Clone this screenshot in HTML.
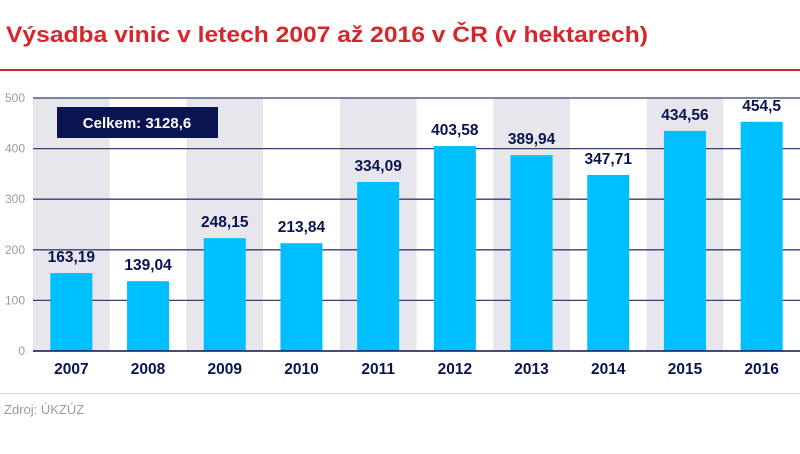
<!DOCTYPE html>
<html><head><meta charset="utf-8"><style>
body{margin:0;width:800px;height:449px;background:#fff;overflow:hidden;font-family:"Liberation Sans",sans-serif}
</style></head><body>
<svg width="800" height="449" xmlns="http://www.w3.org/2000/svg">
<text x="6" y="42" font-size="22" font-weight="bold" fill="#d7262b" textLength="642" lengthAdjust="spacingAndGlyphs">Výsadba vinic v letech 2007 až 2016 v ČR (v hektarech)</text>
<rect x="0" y="69" width="800" height="2" fill="#d7262b"/>
<g id="plot"></g>
<rect x="0" y="393" width="800" height="1" fill="#cfd0dc"/>
<text x="4" y="414" font-size="13" fill="#9a9aaa">Zdroj: ÚKZÚZ</text>
</svg>
<script>
const categories=["2007","2008","2009","2010","2011","2012","2013","2014","2015","2016"];
const barValues=[154,138,223,213,334,405,387,348,435,453];
const valueLabels=["163,19","139,04","248,15","213,84","334,09","403,58","389,94","347,71","434,56","454,5"];
const yTicks=[0,100,200,300,400,500];
const NS="http://www.w3.org/2000/svg";
const g=document.getElementById('plot');
const L=33,R=800,Y0=351,Y500=98;
const step=(R-L)/categories.length;
const y=v=>Y0-(v/500)*(Y0-Y500);
const xc=i=>L+step*(i+0.5);
function mk(t,a,txt){const e=document.createElementNS(NS,t);for(const k in a)e.setAttribute(k,a[k]);if(txt!==undefined)e.textContent=txt;g.appendChild(e);return e;}
categories.forEach((c,i)=>{if(i%2===0){const e=mk('rect',{x:L+step*i,y:Y500,width:step,height:Y0-Y500,fill:'#e6e6ec'});

}});
yTicks.forEach(t=>{if(t>0){const l=mk('line',{x1:L,x2:R,y1:y(t),y2:y(t),stroke:'#3a3d6e','stroke-width':1.3});

}
const tx=mk('text',{x:25,y:y(t)+4,'text-anchor':'end','font-size':12,fill:'#9a9aaa'},t);

});
categories.forEach((c,i)=>{
const b=mk('rect',{x:xc(i)-21,y:y(barValues[i]),width:42,height:Y0-y(barValues[i]),fill:'#00bfff'});


const v=mk('text',{x:xc(i),y:y(barValues[i])-11,'text-anchor':'middle','font-size':15.5,'font-weight':'bold',fill:'#0a1450'},valueLabels[i]);


const x=mk('text',{x:xc(i),y:374,'text-anchor':'middle','font-size':15.5,'font-weight':'bold',fill:'#0a1450'},c);

});
const ax=mk('line',{x1:L,x2:R,y1:Y0,y2:Y0,stroke:'#0a1450','stroke-width':1.5});


const box=mk('rect',{x:57,y:107,width:161,height:31,fill:'#0a1450'});


const bt=mk('text',{x:137,y:128,'text-anchor':'middle','font-size':15,'font-weight':'bold',fill:'#fff'},'Celkem: 3128,6');


</script>
</body></html>
